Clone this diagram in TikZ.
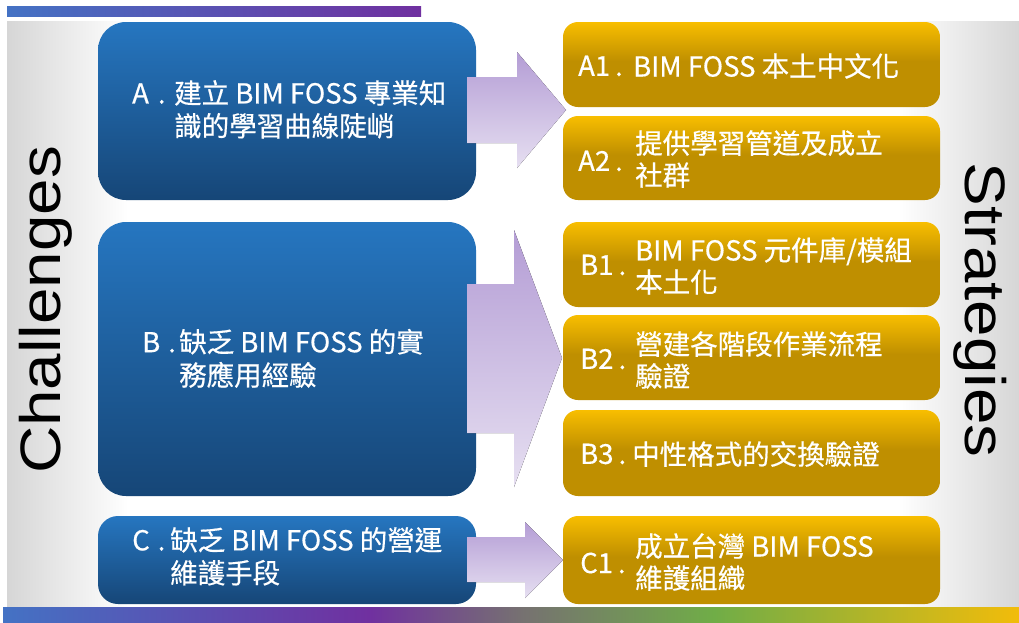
\documentclass[tikz,border=0pt]{standalone}
\usepackage{fontspec}
\usepackage{graphicx}
\setmainfont{Liberation Sans}
\newfontfamily\cjk[FakeBold=0.5]{Noto Sans CJK TC}
\usetikzlibrary{calc}
\definecolor{barBlue}{HTML}{4472C4}
\definecolor{barPurple}{HTML}{7030A0}
\definecolor{barGray}{HTML}{767171}
\definecolor{barGreen}{HTML}{70AD47}
\definecolor{barGold}{HTML}{F2BC0A}
\definecolor{panelGray}{HTML}{D6D6D6}
\definecolor{blueT}{HTML}{2676C0}
\definecolor{blueB}{HTML}{164677}
\definecolor{goldL}{HTML}{F8BE00}
\definecolor{goldD}{HTML}{BF8F00}
\definecolor{lavT}{HTML}{B49DD5}
\definecolor{lavB}{HTML}{E6DFF1}
\pgfdeclarehorizontalshading{rainbowbar}{100bp}{color(0bp)=(barBlue); color(25bp)=(barBlue); color(43bp)=(barPurple); color(50.5bp)=(barGray); color(60bp)=(barGreen); color(75bp)=(barGold); color(100bp)=(barGold)}
\pgfdeclarehorizontalshading{panelshade}{100bp}{color(0bp)=(panelGray); color(25bp)=(panelGray); color(31bp)=(white); color(69bp)=(white); color(75bp)=(panelGray); color(100bp)=(panelGray)}
\pgfdeclareverticalshading{goldshade}{100bp}{color(0bp)=(goldD); color(25bp)=(goldD); color(52bp)=(goldD); color(75bp)=(goldL); color(100bp)=(goldL)}
\tikzset{
  bluebox/.style={rounded corners=28pt, top color=blueT, bottom color=blueB, draw=none, inner sep=0pt, minimum width=378pt},
  goldbox/.style={rounded corners=15pt, shade, shading=goldshade, draw=none, inner sep=0pt, minimum width=377pt},
  boxtxt/.style={text=white, inner sep=0pt, anchor=west, font=\cjk\fontsize{27.5}{32}\selectfont, align=left},
  bigword/.style={inner sep=0pt, font=\fontsize{57}{60}\selectfont, text=black},
  blockarrow/.style={top color=lavT, bottom color=lavB, draw=none}
}
\begin{document}
\begin{tikzpicture}[x=1pt,y=-1pt]
\useasboundingbox (0,0) rectangle (1019,622);
% background panel and bars
\fill[shading=rainbowbar] (3,607) rectangle (1019,622);
\fill[shading=panelshade] (7,21) rectangle (1019,606);
\fill[left color=barBlue, right color=barPurple] (7,6) rectangle (421,16);
% side titles
\node[bigword, rotate=90] (ch) at (46,310) {\scalebox{1.15}[1]{Challenges}};
\node[bigword, rotate=-90] (st) at (980,310) {\scalebox{1.15}[1]{Strategies}};
% challenge boxes
\node[bluebox, minimum height=178pt] (A) at (287,111) {};
\node[bluebox, minimum height=274pt] (B) at (287,359) {};
\node[bluebox, rounded corners=20pt, minimum height=88pt] (C) at (287,560) {};
% block arrows
\fill[blockarrow] (467,77) -- (517,77) -- (517,52) -- (566,110) -- (517,168) -- (517,143) -- (467,143) -- cycle;
\fill[blockarrow] (467,284) -- (514,284) -- (514,230) -- (562,358) -- (514,487) -- (514,433) -- (467,433) -- cycle;
\fill[blockarrow] (467,537) -- (525,537) -- (525,522) -- (563,560) -- (525,598) -- (525,582) -- (467,582) -- cycle;
% strategy boxes
\node[goldbox, minimum height=85pt] (A1) at (751.5,64.5) {};
\node[goldbox, minimum height=84pt] (A2) at (751.5,158) {};
\node[goldbox, minimum height=85pt] (B1) at (751.5,264.5) {};
\node[goldbox, minimum height=85pt] (B2) at (751.5,357.5) {};
\node[goldbox, minimum height=86pt] (B3) at (751.5,453) {};
\node[goldbox, minimum height=88pt] (C1) at (751.5,560) {};
% challenge texts
\node[boxtxt] (At) at (132,113) {\begin{tabular}{@{}l@{}l@{}}\makebox[42pt][l]{A\hspace{9pt}.}&建立 BIM FOSS 專業知\\&識的學習曲線陡峭\end{tabular}};
\node[boxtxt] (Bt) at (142,362) {\begin{tabular}{@{}l@{}l@{}}\makebox[37pt][l]{B\hspace{8pt}.}&缺乏 BIM FOSS 的實\\&務應用經驗\end{tabular}};
\node[boxtxt] (Ct) at (132,560) {\begin{tabular}{@{}l@{}l@{}}\makebox[38pt][l]{C\hspace{8pt}.}&缺乏 BIM FOSS 的營運\\&維護手段\end{tabular}};
% strategy labels and texts
\node[boxtxt] (A1l) at (578,66) {A1\hspace{5pt}.};
\node[boxtxt] (A1t) at (633,66) {BIM FOSS 本土中文化};
\node[boxtxt] (A2l) at (578,161) {A2\hspace{5pt}.};
\node[boxtxt] (A2t) at (635,159) {提供學習管道及成立\\社群};
\node[boxtxt] (B1l) at (580,265) {B1\hspace{5pt}.};
\node[boxtxt] (B1t) at (635,266) {BIM FOSS 元件庫/模組\\本土化};
\node[boxtxt] (B2l) at (580,359) {B2\hspace{5pt}.};
\node[boxtxt] (B2t) at (635,360) {營建各階段作業流程\\驗證};
\node[boxtxt] (B3l) at (580,454) {B3\hspace{5pt}.};
\node[boxtxt] (B3t) at (632,454) {中性格式的交換驗證};
\node[boxtxt] (C1l) at (580,563) {C1\hspace{5pt}.};
\node[boxtxt] (C1t) at (635,562) {成立台灣 BIM FOSS\\維護組織};
\end{tikzpicture}
\end{document}
